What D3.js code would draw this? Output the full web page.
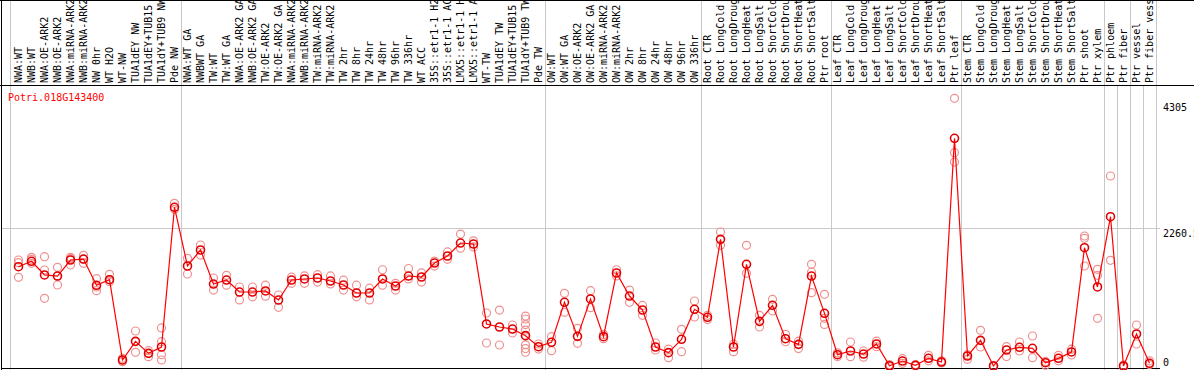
<!DOCTYPE html>
<html>
<head>
<meta charset="utf-8">
<script src="https://cdn.jsdelivr.net/npm/d3@7"></script>
<style>
  html, body { margin: 0; padding: 0; background: #fff; }
  svg { display: block; }
</style>
</head>
<body>
<div id="chart"></div>
<script>
const geneId = "Potri.018G143400";

const samples = [
  "NWA:WT", "NWB:WT", "NWA:OE-ARK2", "NWB:OE-ARK2", "NWA:miRNA-ARK2", "NWB:miRNA-ARK2",
  "NW 0hr", "WT H2O", "WT-NW", "TUA1dEY NW", "TUA1dEY+TUB15 NW", "TUA1dY+TUB9 NW", "Pde NW",
  "NWA:WT GA", "NWBWT GA", "TW:WT", "TW:WT GA", "NWA:OE-ARK2 GA", "NWB:OE-ARK2 GA",
  "TW:OE-ARK2", "TW:OE-ARK2 GA", "NWA:miRNA-ARK2", "NWB:miRNA-ARK2", "TW:miRNA-ARK2",
  "TW:miRNA-ARK2", "TW 2hr", "TW 8hr", "TW 24hr", "TW 48hr", "TW 96hr", "TW 336hr",
  "WT ACC", "35S::etr1-1 H2O", "35S::etr1-1 ACC", "LMX5::etr1-1 H2O", "LMX5::etr1-1 ACC",
  "WT-TW", "TUA1dEY TW", "TUA1dEY+TUB15 TW", "TUA1dY+TUB9 TW", "Pde TW",
  "OW:WT", "OW:WT GA", "OW:OE-ARK2", "OW:OE-ARK2 GA", "OW:miRNA-ARK2", "OW:miRNA-ARK2",
  "OW 2hr", "OW 8hr", "OW 24hr", "OW 48hr", "OW 96hr", "OW 336hr",
  "Root CTR", "Root LongCold", "Root LongDrought", "Root LongHeat", "Root LongSalt",
  "Root ShortCold", "Root ShortDrought", "Root ShortHeat", "Root ShortSalt", "Ptr root",
  "Leaf CTR", "Leaf LongCold", "Leaf LongDrought", "Leaf LongHeat", "Leaf LongSalt",
  "Leaf ShortCold", "Leaf ShortDrought", "Leaf ShortHeat", "Leaf ShortSalt", "Ptr leaf",
  "Stem CTR", "Stem LongCold", "Stem LongDrought", "Stem LongHeat", "Stem LongSalt",
  "Stem ShortCold", "Stem ShortDrought", "Stem ShortHeat", "Stem ShortSalt",
  "Ptr shoot", "Ptr xylem", "Ptr phloem", "Ptr fiber", "Ptr vessel", "Ptr fiber vessel"
];

const means = [
  1629, 1717, 1495, 1478, 1738, 1754, 1327, 1418, 114, 417, 222, 325, 2594,
  1641, 1901, 1348, 1413, 1218, 1218, 1235, 1088, 1413, 1430, 1446, 1397, 1332,
  1202, 1202, 1430, 1316, 1478, 1462, 1689, 1803, 2014, 1998, 699, 650, 617, 509, 330,
  401, 1051, 498, 1105, 493, 1527, 1153, 926, 325, 233, 450, 937,
  807, 2074, 325, 1668, 742, 1002, 460, 368, 1478, 872,
  200, 260, 210, 374, 20, 97, 28, 141, 81, 3715,
  179, 433, 16, 276, 320, 304, 70, 141, 244, 1938, 1300,
  2442, 16, 536, 60
];

const replicates = [
  [1738, 1694, 1457], [1782, 1750, 1685], [1792, 1576, 1116], [1619, 1478, 1332],
  [1782, 1760, 1657], [1815, 1750, 1685], [1435, 1300, 1240], [1506, 1420, 1386],
  [141, 87], [585, 239], [265, 168], [634, 411, 200, 114], [2659, 2562],
  [1766, 1511], [1982, 1819], [1446, 1250], [1490, 1330], [1300, 1090], [1300, 1140],
  [1330, 1150], [1170, 970], [1460, 1360], [1480, 1360], [1500, 1380], [1480, 1350],
  [1410, 1250], [1330, 1140], [1280, 1090], [1580, 1330], [1360, 1250], [1600, 1430],
  [1530, 1380], [1720, 1640], [1870, 1750], [2160, 1930], [2050, 1950], [877, 390],
  [925, 357], [682, 552], [828, 780, 690, 600, 510, 360, 300, 240], [374, 292],
  [493, 265], [1197, 889], [629, 385], [1240, 963], [530, 460], [1580, 1480],
  [1250, 1050], [1000, 840], [390, 276], [292, 151], [612, 249], [1072, 812],
  [840, 770], [2193, 1977], [370, 249], [1977, 1522], [840, 650], [1100, 910],
  [530, 410], [420, 300], [1668, 1540, 1207], [1181, 790, 692],
  [230, 170], [406, 167], [260, 160], [420, 330], [40, 5], [135, 60], [40, 15],
  [190, 100], [100, 65], [4365, 3481, 3330],
  [200, 125], [596, 325], [25, 5], [330, 170], [406, 260], [504, 151], [30, 90],
  [190, 100], [290, 195], [2128, 2090, 1641], [1587, 1490, 791],
  [3103, 1733], [30, 5], [682, 374], [100, 40]
];

// group separators, in sample-index units
const headerBreaks = [-0.65, 12.5, 40.5, 52.5, 62.5, 72.5, 83.5, 85.5, 87.5];
const plotBreaks = [-0.65, 12.5, 40.5, 52.5, 62.5, 72.5, 83.5, 84.5, 85.5, 86.5, 87.5];

const yTicks = [0, 2260.5, 4305];
const yTickLabels = ["0", "2260.5", "4305"];

const width = 1194, height = 370;
const headerH = 85;
const plotRight = 1160;
const mono = "'DejaVu Sans Mono', monospace";

const x = d3.scaleLinear().domain([0, samples.length - 1]).range([18.5, 1149.5]);
const y = d3.scaleLinear().domain([0, 4305]).range([367, 102]);

const svg = d3.select("#chart").append("svg")
  .attr("width", width)
  .attr("height", height);

// sample names are cut at the top of the header, as in the original
svg.append("defs").append("clipPath")
  .attr("id", "headClip")
  .append("rect")
  .attr("x", 0).attr("y", 0)
  .attr("width", width).attr("height", headerH);

// gray separators
svg.append("g")
  .attr("class", "headGrid")
  .selectAll("line")
  .data(headerBreaks)
  .join("line")
  .attr("x1", (d) => Math.round(x(d)) + 0.5)
  .attr("x2", (d) => Math.round(x(d)) + 0.5)
  .attr("y1", 0)
  .attr("y2", headerH)
  .attr("stroke", "#c8c8c8");

svg.append("g")
  .attr("class", "plotGrid")
  .call((g) => {
    g.selectAll("line.v")
      .data(plotBreaks)
      .join("line")
      .attr("class", "v")
      .attr("x1", (d) => Math.round(x(d)) + 0.5)
      .attr("x2", (d) => Math.round(x(d)) + 0.5)
      .attr("y1", headerH)
      .attr("y2", height)
      .attr("stroke", "#c8c8c8");
    g.append("line")
      .attr("x1", 1)
      .attr("x2", plotRight)
      .attr("y1", Math.round(y(yTicks[1])) + 0.5)
      .attr("y2", Math.round(y(yTicks[1])) + 0.5)
      .attr("stroke", "#c8c8c8");
  });

svg.append("g")
  .attr("clip-path", "url(#headClip)")
  .selectAll("text")
  .data(samples)
  .join("text")
  .attr("transform", (d, i) => `translate(${x(i) + 3}, 83) rotate(-90)`)
  .attr("font-family", mono)
  .attr("font-size", 10)
  .attr("fill", "#000")
  .text((d) => d);

// frame
svg.append("g")
  .attr("class", "frame")
  .call((g) => {
    g.append("line").attr("x1", 0).attr("x2", width).attr("y1", 0.5).attr("y2", 0.5);
    g.append("line").attr("x1", 0).attr("x2", width).attr("y1", headerH + 0.5).attr("y2", headerH + 0.5);
    g.append("line").attr("x1", 1.5).attr("x2", 1.5).attr("y1", 0).attr("y2", height);
    g.append("line").attr("x1", 1).attr("x2", plotRight).attr("y1", 368.5).attr("y2", 368.5);
    g.selectAll("line").attr("stroke", "#000").attr("stroke-width", 1);
  });

// right value labels
svg.append("g")
  .selectAll("text")
  .data(yTicks)
  .join("text")
  .attr("x", 1163)
  .attr("y", (d, i) => (i === 0 ? 366 : y(d) + 9))
  .attr("font-family", mono)
  .attr("font-size", 10)
  .attr("fill", "#000")
  .text((d, i) => yTickLabels[i]);

svg.append("text")
  .attr("x", 8)
  .attr("y", 101)
  .attr("font-family", mono)
  .attr("font-size", 10)
  .attr("fill", "#ff0000")
  .text(geneId);

// replicate circles
const repPts = replicates.flatMap((r, i) => r.map((v) => ({ i, v })));
svg.append("g")
  .selectAll("circle")
  .data(repPts)
  .join("circle")
  .attr("cx", (d) => x(d.i))
  .attr("cy", (d) => y(d.v))
  .attr("r", 4)
  .attr("fill", "none")
  .attr("stroke", "#ee9090")
  .attr("stroke-width", 1.2);

// mean line + points
svg.append("path")
  .datum(means)
  .attr("fill", "none")
  .attr("stroke", "#ff0000")
  .attr("stroke-width", 1.2)
  .attr("d", d3.line().x((d, i) => x(i)).y((d) => y(d)));

svg.append("g")
  .selectAll("circle")
  .data(means)
  .join("circle")
  .attr("cx", (d, i) => x(i))
  .attr("cy", (d) => y(d))
  .attr("r", 4)
  .attr("fill", "none")
  .attr("stroke", "#e00000")
  .attr("stroke-width", 1.6);
</script>
</body>
</html>
